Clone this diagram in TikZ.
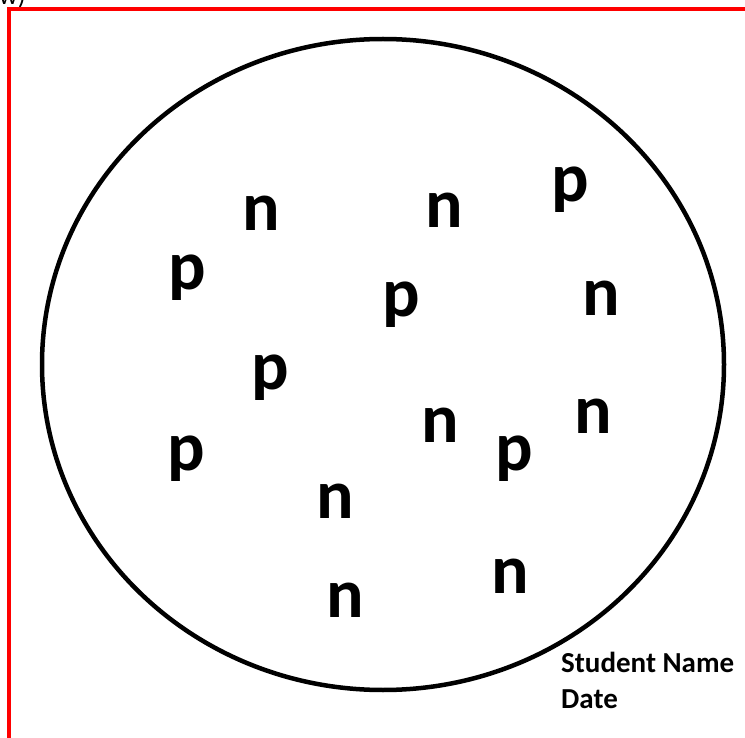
\documentclass[tikz,border=0pt]{standalone}
\usepackage{fontspec}
\setmainfont{Carlito}

\begin{document}
\begin{tikzpicture}[x=1pt, y=-1pt,
		particle/.style={font=\fontsize{70}{70}\selectfont\bfseries, inner sep=0pt, anchor=base},
		label/.style={font=\fontsize{29}{36}\selectfont\bfseries, inner sep=0pt, anchor=base west},
		frame/.style={red, line width=3.5pt},
		nucleus/.style={draw, line width=4.5pt}
		]
		
		\useasboundingbox (0,0) rectangle (745,738);
		
		% Frame
		\node[font=\fontsize{26}{26}\selectfont, inner sep=0pt, anchor=base west] (part) at (-1,5) {w)};
		\draw[frame] (9,760) -- (9,9) -- (760,9);
		
		% Nucleus
		\draw[nucleus] (383,364.5) ellipse [x radius=341pt, y radius=325.5pt];
		
		% Protons
		\node[particle] (p1) at (570,202) {p};
		\node[particle] (p2) at (187,290) {p};
		\node[particle] (p3) at (401,317) {p};
		\node[particle] (p4) at (270,389) {p};
		\node[particle] (p5) at (186,470) {p};
		\node[particle] (p6) at (514,470) {p};
		
		% Neutrons
		\node[particle] (n1) at (261,231) {n};
		\node[particle] (n2) at (444,228) {n};
		\node[particle] (n3) at (601,316) {n};
		\node[particle] (n4) at (440,442) {n};
		\node[particle] (n5) at (593,433) {n};
		\node[particle] (n6) at (335,518) {n};
		\node[particle] (n7) at (510,593) {n};
		\node[particle] (n8) at (345,617) {n};
		
		% Labels
		\node[label] (name) at (561,672) {Student Name};
		\node[label] (date) at (561,708) {Date};
		
	\end{tikzpicture}
\end{document}
